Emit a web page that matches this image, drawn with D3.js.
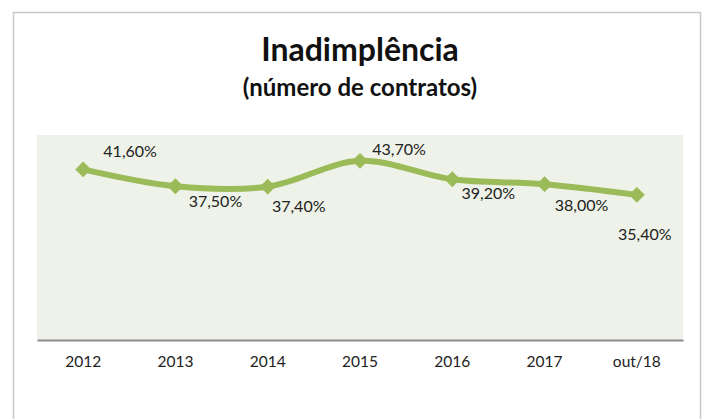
<!DOCTYPE html>
<html>
<head>
<meta charset="utf-8">
<script src="https://cdn.jsdelivr.net/npm/d3@7"></script>
<style>
  body { margin: 0; background: #fff; }
  svg { display: block; font-family: Lato, "Open Sans", sans-serif; }
</style>
</head>
<body>
<div id="chart"></div>
<script>
// dados
const categorias = ["2012", "2013", "2014", "2015", "2016", "2017", "out/18"];
const valores = [41.6, 37.5, 37.4, 43.7, 39.2, 38.0, 35.4];
const rotulos = ["41,60%", "37,50%", "37,40%", "43,70%", "39,20%", "38,00%", "35,40%"];

// posição dos rótulos em relação ao ponto (dx, dy)
const deslocRotulos = [[47, -16], [40, 17], [31, 21], [39, -10], [36, 16], [37, 23], [8, 41]];

const W = 707, H = 419;
const plot = {left: 37, right: 683, top: 135, bottom: 340};

const svg = d3.select("#chart")
  .append("svg")
  .attr("width", W)
  .attr("height", H);

// moldura
svg.append("rect")
  .attr("x", 13.5).attr("y", 12.5)
  .attr("width", 687).attr("height", 420)
  .attr("fill", "#fff")
  .attr("stroke", "#c8c8c8")
  .attr("stroke-width", 1.5);

// títulos
svg.append("text")
  .attr("x", 360).attr("y", 61)
  .attr("text-anchor", "middle")
  .style("font-size", "32px")
  .style("font-weight", "bold")
  .style("fill", "#111")
  .text("Inadimplência");

svg.append("text")
  .attr("x", 360).attr("y", 96)
  .attr("text-anchor", "middle")
  .style("font-size", "24px")
  .style("font-weight", "bold")
  .style("fill", "#111")
  .text("(número de contratos)");

// área de plotagem
svg.append("rect")
  .attr("x", plot.left).attr("y", plot.top)
  .attr("width", plot.right - plot.left)
  .attr("height", plot.bottom - plot.top)
  .attr("fill", "#eef2e8");

const x = d3.scaleBand()
  .domain(categorias)
  .range([plot.left, plot.right]);

const y = d3.scaleLinear()
  .domain([0, 50])
  .range([plot.bottom, plot.top]);

const cx = c => x(c) + x.bandwidth() / 2;

// eixo x
const eixo = svg.append("g")
  .attr("transform", `translate(0,${plot.bottom})`)
  .call(d3.axisBottom(x).tickSize(0).tickPadding(16));
eixo.select(".domain").attr("stroke", "#8c8c8c").attr("stroke-width", 2);
eixo.selectAll("text")
  .style("font-family", "Lato, 'Open Sans', sans-serif")
  .style("font-size", "15.5px")
  .style("fill", "#222");

const dados = categorias.map((c, i) => ({c, v: valores[i], r: rotulos[i], o: deslocRotulos[i]}));

// linha suavizada
const linha = d3.line()
  .x(d => cx(d.c))
  .y(d => y(d.v))
  .curve(d3.curveCatmullRom.alpha(0.5));

svg.append("path")
  .datum(dados)
  .attr("d", linha)
  .attr("fill", "none")
  .attr("stroke", "#9bbb59")
  .attr("stroke-width", 6)
  .attr("stroke-linejoin", "round");

// marcadores (losangos)
svg.append("g")
  .selectAll("path")
  .data(dados)
  .enter()
  .append("path")
  .attr("d", d3.symbol().type(d3.symbolDiamond2).size(160))
  .attr("transform", d => `translate(${cx(d.c)},${y(d.v)})`)
  .attr("fill", "#9bbb59");

// rótulos
svg.append("g")
  .selectAll("text")
  .data(dados)
  .enter()
  .append("text")
  .attr("x", d => cx(d.c) + d.o[0])
  .attr("y", d => y(d.v) + d.o[1])
  .attr("text-anchor", "middle")
  .attr("dominant-baseline", "middle")
  .style("font-size", "16px")
  .style("fill", "#222")
  .text(d => d.r);
</script>
</body>
</html>
